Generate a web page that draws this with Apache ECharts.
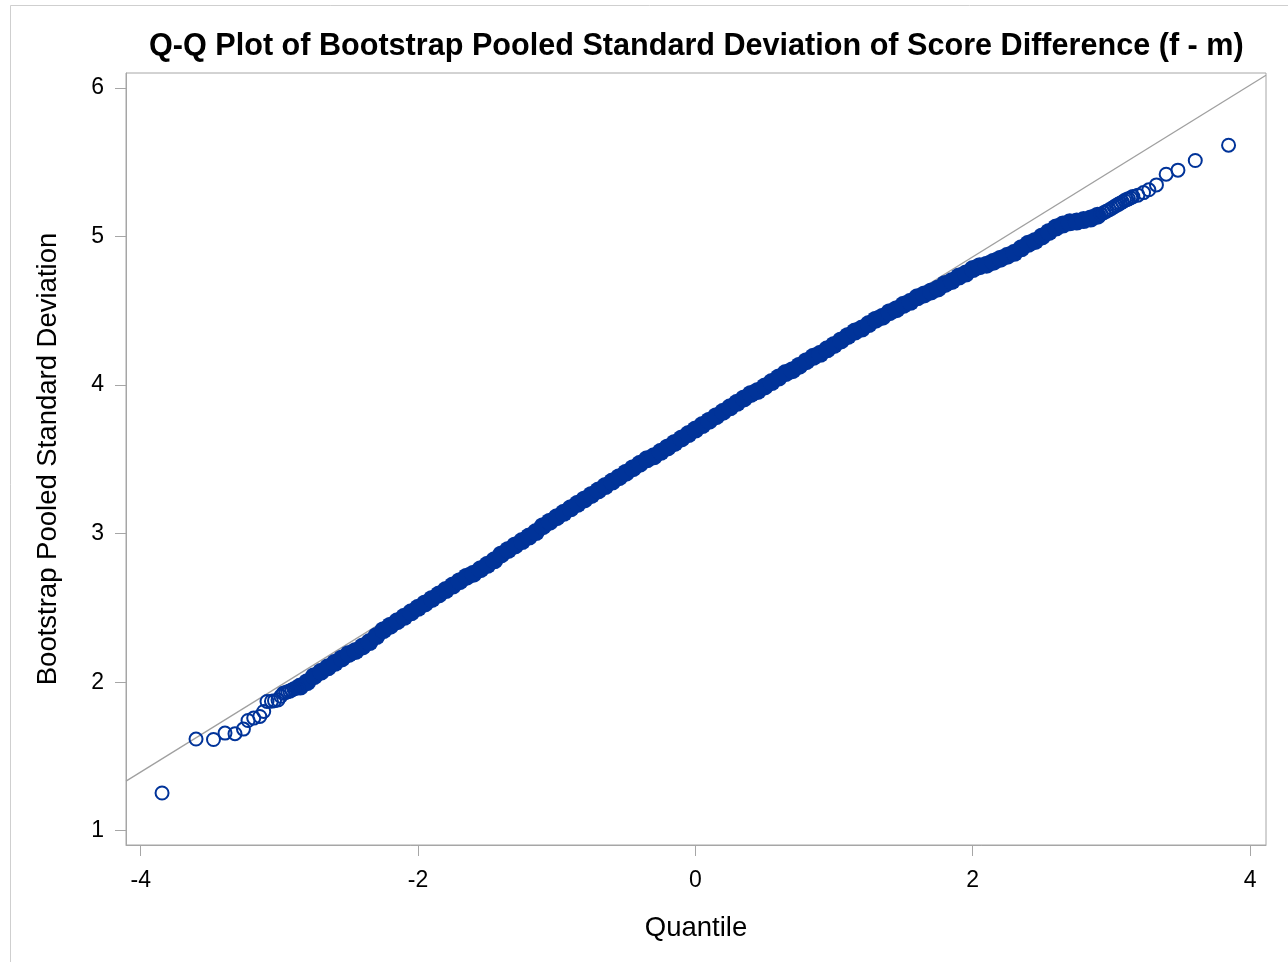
<!DOCTYPE html>
<html>
<head>
<meta charset="utf-8">
<style>
  html, body { margin: 0; padding: 0; background: #fff; }
  #chart { width: 1288px; height: 962px; }
</style>
<script src="https://cdn.jsdelivr.net/npm/echarts@6/dist/echarts.min.js"></script>
</head>
<body>
<div id="chart"></div>
<script>
// ---- data ----
const titleText = 'Q-Q Plot of Bootstrap Pooled Standard Deviation of Score Difference (f - m)';
const xAxisName = 'Quantile';
const yAxisName = 'Bootstrap Pooled Standard Deviation';
const xTicks = [-4, -2, 0, 2, 4];
const yTicks = [1, 2, 3, 4, 5, 6];

// sparse lower tail (individual circles)
const lowQ = [-3.846, -3.601, -3.475, -3.392, -3.320, -3.259, -3.226, -3.185, -3.141, -3.113, -3.089, -3.057, -3.035, -3.010, -2.990, -2.972, -2.955, -2.940, -2.925, -2.910, -2.895, -2.880, -2.865];
const lowY = [1.254, 1.617, 1.614, 1.657, 1.653, 1.684, 1.742, 1.758, 1.769, 1.803, 1.870, 1.872, 1.875, 1.880, 1.905, 1.925, 1.930, 1.935, 1.940, 1.948, 1.955, 1.960, 1.965];

// dense central band
const bandQ = [-2.85, -2.80, -2.75, -2.70, -2.65, -2.60, -2.55, -2.50, -2.45, -2.40, -2.35, -2.30, -2.25, -2.20, -2.15, -2.10, -2.05, -2.00,
  -1.95, -1.90, -1.85, -1.80, -1.75, -1.70, -1.65, -1.60, -1.55, -1.50, -1.45, -1.40, -1.35, -1.30, -1.25, -1.20, -1.15, -1.10, -1.05, -1.00,
  -0.95, -0.90, -0.85, -0.80, -0.75, -0.70, -0.65, -0.60, -0.55, -0.50, -0.45, -0.40, -0.35, -0.30, -0.25, -0.20, -0.15, -0.10, -0.05, 0.00,
  0.05, 0.10, 0.15, 0.20, 0.25, 0.30, 0.35, 0.40, 0.45, 0.50, 0.55, 0.60, 0.65, 0.70, 0.75, 0.80, 0.85, 0.90, 0.95, 1.00,
  1.05, 1.10, 1.15, 1.20, 1.25, 1.30, 1.35, 1.40, 1.45, 1.50, 1.55, 1.60, 1.65, 1.70, 1.75, 1.80, 1.85, 1.90, 1.95, 2.00,
  2.05, 2.10, 2.15, 2.20, 2.25, 2.30, 2.35, 2.40, 2.45, 2.50, 2.55, 2.60, 2.65, 2.70, 2.75, 2.80, 2.85, 2.90];
const bandY = [1.97, 2.00, 2.04, 2.07, 2.10, 2.13, 2.16, 2.19, 2.21, 2.24, 2.27, 2.31, 2.35, 2.38, 2.41, 2.44, 2.47, 2.50,
  2.53, 2.56, 2.59, 2.62, 2.65, 2.68, 2.71, 2.73, 2.76, 2.79, 2.82, 2.86, 2.89, 2.92, 2.95, 2.98, 3.01, 3.05, 3.08, 3.11,
  3.14, 3.17, 3.20, 3.23, 3.26, 3.29, 3.32, 3.35, 3.38, 3.41, 3.44, 3.47, 3.50, 3.52, 3.55, 3.58, 3.61, 3.64, 3.67, 3.70,
  3.73, 3.76, 3.79, 3.82, 3.85, 3.88, 3.91, 3.94, 3.96, 3.99, 4.02, 4.05, 4.08, 4.10, 4.13, 4.16, 4.19, 4.21, 4.24, 4.27,
  4.30, 4.33, 4.36, 4.38, 4.41, 4.44, 4.46, 4.49, 4.51, 4.54, 4.56, 4.59, 4.61, 4.63, 4.65, 4.68, 4.70, 4.73, 4.75, 4.78,
  4.80, 4.81, 4.83, 4.85, 4.87, 4.89, 4.92, 4.95, 4.97, 5.00, 5.03, 5.06, 5.08, 5.095, 5.10, 5.11, 5.12, 5.14];

// sparse upper tail (individual circles)
const upQ = [2.925, 2.945, 2.965, 2.985, 3.004, 3.020, 3.035, 3.050, 3.064, 3.080, 3.095, 3.110, 3.123, 3.140, 3.155, 3.191, 3.232, 3.270, 3.325, 3.395, 3.480, 3.605, 3.845];
const upY = [5.150, 5.160, 5.170, 5.180, 5.190, 5.200, 5.208, 5.216, 5.224, 5.232, 5.242, 5.248, 5.253, 5.260, 5.268, 5.278, 5.295, 5.314, 5.347, 5.419, 5.446, 5.511, 5.614];

// reference line endpoints (at the axis extents)
const refQ = [-4.106, 4.115];
const refY = [1.334, 6.085];

// axis extents
const xMin = -4.106, xMax = 4.115;
const yMin = 0.904, yMax = 6.10;

// ---- chart ----
const zip = (a, b) => a.map((v, i) => [v, b[i]]);
const markColor = '#003399';
const frameColor = '#A6A6A6';
const fontFam = '"Liberation Sans", Arial, sans-serif';

const chart = echarts.init(document.getElementById('chart'), null, { renderer: 'canvas' });
chart.setOption({
  animation: false,
  backgroundColor: '#ffffff',
  title: {
    text: titleText,
    left: 149,
    top: 31,
    padding: 0,
    textStyle: { fontFamily: fontFam, fontWeight: 'bold', fontSize: 30.6, color: '#000' }
  },
  graphic: [{
    type: 'rect', silent: true, z: -1,
    shape: { x: 10.5, y: 5.5, width: 1300, height: 1000 },
    style: { fill: 'none', stroke: '#CFCFCF', lineWidth: 1 }
  }],
  grid: {
    left: 126, right: 22, top: 73, bottom: 117,
    show: true, borderColor: frameColor, borderWidth: 1, backgroundColor: 'transparent'
  },
  xAxis: {
    type: 'value', min: xMin, max: xMax,
    name: xAxisName, nameLocation: 'middle', nameGap: 69,
    nameTextStyle: { fontFamily: fontFam, fontSize: 27.5, color: '#000' },
    axisLine: { show: true, onZero: false, lineStyle: { color: frameColor, width: 1 } },
    axisTick: { show: true, length: 11, lineStyle: { color: frameColor }, customValues: xTicks },
    axisLabel: { fontFamily: fontFam, fontSize: 23, color: '#000', margin: 24, customValues: xTicks },
    splitLine: { show: false }
  },
  yAxis: {
    type: 'value', min: yMin, max: yMax,
    name: yAxisName, nameLocation: 'middle', nameGap: 64,
    nameTextStyle: { fontFamily: fontFam, fontSize: 27.5, color: '#000' },
    axisLine: { show: true, onZero: false, lineStyle: { color: frameColor, width: 1 } },
    axisTick: { show: true, length: 11, lineStyle: { color: frameColor }, customValues: yTicks },
    axisLabel: { fontFamily: fontFam, fontSize: 23, color: '#000', margin: 22, customValues: yTicks },
    splitLine: { show: false }
  },
  series: [
    {
      type: 'line', data: zip(refQ, refY), symbol: 'none', z: 1,
      lineStyle: { color: '#A0A0A0', width: 1.3 }, silent: true
    },
    {
      type: 'scatter', data: zip(bandQ, bandY), symbol: 'circle', symbolSize: 18, z: 2,
      itemStyle: { color: markColor, borderWidth: 0, opacity: 1 }
    },
    {
      type: 'scatter', data: zip(lowQ, lowY).concat(zip(upQ, upY)), symbol: 'circle', symbolSize: 13, z: 3,
      itemStyle: { color: 'rgba(0,0,0,0)', borderColor: markColor, borderWidth: 2, opacity: 1 }
    }
  ]
});
</script>
</body>
</html>
